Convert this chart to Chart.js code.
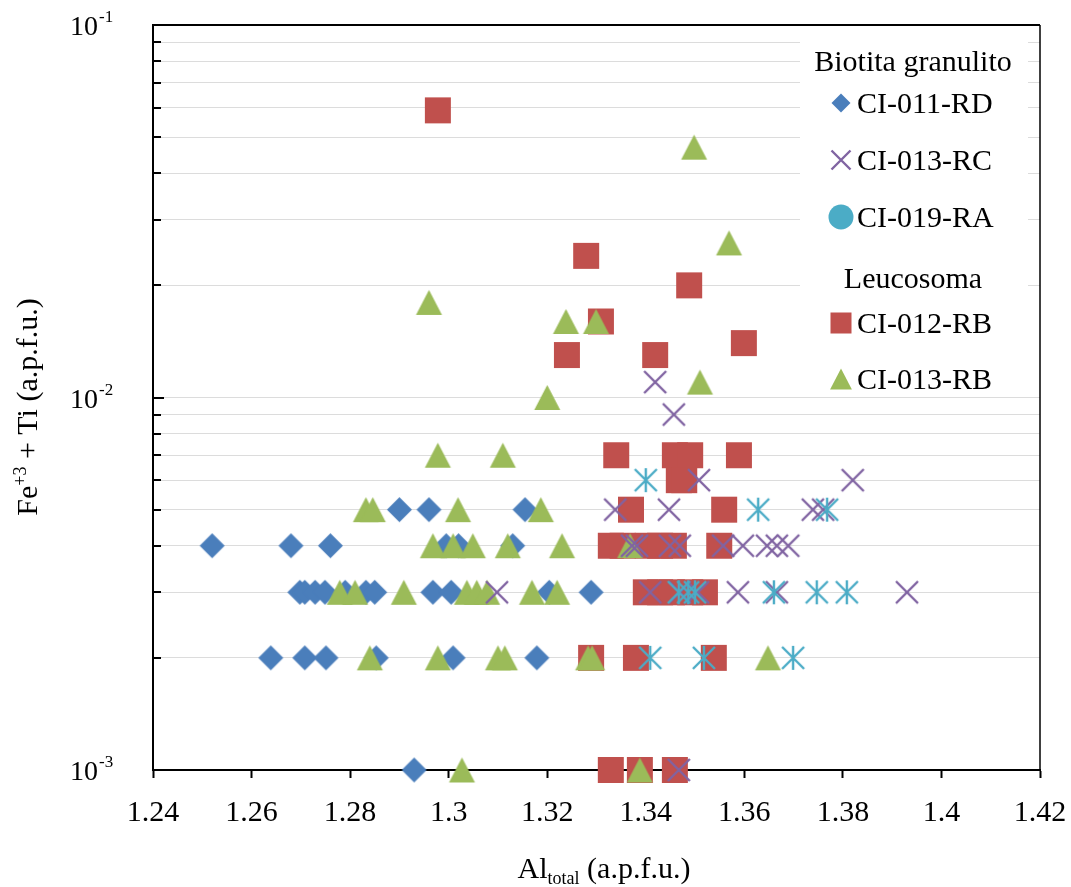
<!DOCTYPE html>
<html><head><meta charset="utf-8">
<script src="https://cdn.jsdelivr.net/npm/chart.js@4.4.0/dist/chart.umd.min.js"></script>
<style>html,body{margin:0;padding:0;background:#fff;}</style>
</head><body>
<canvas id="c" width="1071" height="887"></canvas>
<script>
// ---------- data ----------
const seriesNames = ['CI-011-RD', 'CI-013-RC', 'CI-019-RA', 'CI-012-RB', 'CI-013-RB'];
const groupNames = ['Biotita granulito', 'Leucosoma'];
const xTickValues = [1.24, 1.26, 1.28, 1.30, 1.32, 1.34, 1.36, 1.38, 1.40, 1.42];
const xTickLabels = ['1.24', '1.26', '1.28', '1.3', '1.32', '1.34', '1.36', '1.38', '1.4', '1.42'];
const yTickExponents = [-3, -2, -1];
const yTickValues = [0.001,0.002,0.003,0.004,0.005,0.006,0.007,0.008,0.009,
                     0.01,0.02,0.03,0.04,0.05,0.06,0.07,0.08,0.09,0.1];

// CI-011-RD (diamonds)
const rdAl   = [1.290,1.296,1.3155, 1.252,1.268,1.276,1.2995,1.302,1.313,
                1.2698,1.2708,1.2729,1.2749,1.279,1.2832,1.285,1.2968,1.3005,1.3204,1.3289,
                1.2639,1.2708,1.2751,1.2853,1.3009,1.3179, 1.293];
const rdFeTi = [0.005,0.005,0.005, 0.004,0.004,0.004,0.004,0.004,0.004,
                0.003,0.003,0.003,0.003,0.003,0.003,0.003,0.003,0.003,0.003,0.003,
                0.002,0.002,0.002,0.002,0.002,0.002, 0.001];
// CI-013-RC (crosses)
const rcAl   = [1.3419, 1.3457, 1.3508,1.3820, 1.3338,1.3447,1.3739,1.3760,
                1.3372,1.3382,1.3449,1.3469,1.3557,1.3597,1.3646,1.3666,1.3689,
                1.3098,1.3409,1.3469,1.3506,1.3587,1.3666,1.3930, 1.3467];
const rcFeTi = [0.011, 0.009, 0.006,0.006, 0.005,0.005,0.005,0.005,
                0.004,0.004,0.004,0.004,0.004,0.004,0.004,0.004,0.004,
                0.003,0.003,0.003,0.003,0.003,0.003,0.003, 0.001];
// CI-019-RA (asterisks)
const raAl   = [1.3400, 1.3628,1.3768, 1.3467,1.3486,1.3500,1.3660,1.3747,1.3808, 1.3409,1.3518,1.3699];
const raFeTi = [0.006, 0.005,0.005, 0.003,0.003,0.003,0.003,0.003,0.003, 0.002,0.002,0.002];
// CI-012-RB (squares)
const sqAl   = [1.2978, 1.3279, 1.3488, 1.3309, 1.3599, 1.3240,1.3419,
                1.3340,1.3459,1.3490,1.3589, 1.3467,1.3478, 1.3370,1.3559,
                1.3329,1.3353,1.3404,1.3429,1.3457,1.3549,
                1.3400,1.3429,1.3453,1.3490,1.3520, 1.3289,1.3380,1.3538, 1.3329,1.3388,1.3459];
const sqFeTi = [0.059, 0.024, 0.020, 0.016, 0.014, 0.013,0.013,
                0.007,0.007,0.007,0.007, 0.006,0.006, 0.005,0.005,
                0.004,0.004,0.004,0.004,0.004,0.004,
                0.003,0.003,0.003,0.003,0.003, 0.002,0.002,0.002, 0.001,0.001,0.001];
// CI-013-RB (triangles)
const trAl   = [1.3498, 1.3569, 1.2960, 1.3238,1.3299, 1.3510, 1.3200, 1.2978,1.3110,
                1.2832,1.2846,1.3019,1.3187, 1.2968,1.3009,1.3049,1.3120,1.3230,1.3368,
                1.2779,1.2810,1.2909,1.3037,1.3057,1.3078,1.3169,1.3220,
                1.2840,1.2978,1.3100,1.3114,1.3283,1.3291,1.3648, 1.3027,1.3388];
const trFeTi = [0.047, 0.026, 0.018, 0.016,0.016, 0.011, 0.010, 0.007,0.007,
                0.005,0.005,0.005,0.005, 0.004,0.004,0.004,0.004,0.004,0.004,
                0.003,0.003,0.003,0.003,0.003,0.003,0.003,0.003,
                0.002,0.002,0.002,0.002,0.002,0.002,0.002, 0.001,0.001];

// ---------- styles ----------
const C_BLUE = '#4a7ebb', C_PURPLE = '#8064a2', C_CYAN = '#4bacc6', C_RED = '#c0504d', C_GREEN = '#9bbb59';
const FONT = '"Liberation Serif", "Times New Roman", serif';

function drawShape(ctx, kind, cx, cy, s, color) {
  const h = s / 2;
  ctx.save();
  ctx.fillStyle = color; ctx.strokeStyle = color;
  ctx.beginPath();
  if (kind === 'diamond') {
    ctx.moveTo(cx, cy - h); ctx.lineTo(cx + h, cy); ctx.lineTo(cx, cy + h); ctx.lineTo(cx - h, cy); ctx.closePath(); ctx.fill();
  } else if (kind === 'square') {
    ctx.fillRect(cx - h, cy - h, s, s);
  } else if (kind === 'triangle') {
    ctx.moveTo(cx, cy - h); ctx.lineTo(cx + h * 1.04, cy + h); ctx.lineTo(cx - h * 1.04, cy + h); ctx.closePath(); ctx.fill();
  } else if (kind === 'circle') {
    ctx.arc(cx, cy, h, 0, Math.PI * 2); ctx.fill();
  } else if (kind === 'x' || kind === 'star') {
    ctx.lineWidth = 2.4;
    ctx.moveTo(cx - h, cy - h); ctx.lineTo(cx + h, cy + h);
    ctx.moveTo(cx + h, cy - h); ctx.lineTo(cx - h, cy + h);
    if (kind === 'star') { ctx.moveTo(cx, cy - h - 1); ctx.lineTo(cx, cy + h + 1); }
    ctx.stroke();
  }
  ctx.restore();
}
function markerCanvas(kind, s, color) {
  const pad = 3, c = document.createElement('canvas');
  c.width = s + pad * 2; c.height = s + pad * 2;
  drawShape(c.getContext('2d'), kind, c.width / 2, c.height / 2, s, color);
  return c;
}

function zip(xs, ys) { return xs.map((x, i) => ({ x: x, y: ys[i] })); }

const datasets = [
  { label: seriesNames[0], data: zip(rdAl, rdFeTi), pointStyle: markerCanvas('diamond', 25, C_BLUE), order: 3 },
  { label: seriesNames[1], data: zip(rcAl, rcFeTi), pointStyle: markerCanvas('x', 22, C_PURPLE), order: 1 },
  { label: seriesNames[2], data: zip(raAl, raFeTi), pointStyle: markerCanvas('star', 22, C_CYAN), order: 0 },
  { label: seriesNames[3], data: zip(sqAl, sqFeTi), pointStyle: markerCanvas('square', 26, C_RED), order: 4 },
  { label: seriesNames[4], data: zip(trAl, trFeTi), pointStyle: markerCanvas('triangle', 25, C_GREEN), order: 2 }
];
datasets.forEach(d => { d.pointRadius = 10; d.pointHoverRadius = 10; d.showLine = false; d.clip = false; });

const legendItems = [
  { head: groupNames[0], base: 71 },
  { name: seriesNames[0], kind: 'diamond', size: 19, color: C_BLUE, y: 103 },
  { name: seriesNames[1], kind: 'x', size: 19, color: C_PURPLE, y: 160 },
  { name: seriesNames[2], kind: 'circle', size: 25, color: C_CYAN, y: 217 },
  { head: groupNames[1], base: 288 },
  { name: seriesNames[3], kind: 'square', size: 21, color: C_RED, y: 323 },
  { name: seriesNames[4], kind: 'triangle', size: 21, color: C_GREEN, y: 379 }
];

function drawParts(ctx, parts, cx, baseY) {
  let w = 0;
  parts.forEach(p => { ctx.font = p.f + 'px ' + FONT; p.w = ctx.measureText(p.t).width; w += p.w; });
  let x = cx - w / 2;
  parts.forEach(p => { ctx.font = p.f + 'px ' + FONT; ctx.fillText(p.t, x, baseY + p.dy); x += p.w; });
}

const deco = {
  id: 'deco',
  beforeDatasetsDraw(chart) {
    const ctx = chart.ctx;
    ctx.save(); ctx.fillStyle = '#fff'; ctx.fillRect(800, 34, 228, 358); ctx.restore();
  },
  afterDraw(chart) {
    const ctx = chart.ctx, a = chart.chartArea, ys = chart.scales.y;
    ctx.save();
    ctx.strokeStyle = '#000';
    ctx.lineWidth = 2;
    ctx.beginPath(); ctx.moveTo(a.left - 1, a.top); ctx.lineTo(a.right, a.top); ctx.stroke();
    ctx.lineWidth = 1.5;
    ctx.beginPath(); ctx.moveTo(a.right, a.top); ctx.lineTo(a.right, a.bottom); ctx.stroke();
    // inward y ticks
    ctx.lineWidth = 2;
    yTickValues.forEach(v => {
      const y = Math.round(ys.getPixelForValue(v));
      const major = yTickExponents.some(e => Math.abs(Math.pow(10, e) - v) < 1e-12);
      ctx.beginPath(); ctx.moveTo(a.left, y); ctx.lineTo(a.left + (major ? 11 : 8), y); ctx.stroke();
    });
    // y tick labels 10^n
    ctx.fillStyle = '#000';
    ctx.textBaseline = 'alphabetic';
    yTickExponents.forEach(e => {
      const y = ys.getPixelForValue(Math.pow(10, e));
      ctx.font = '28px ' + FONT; ctx.textAlign = 'right';
      ctx.fillText('10', 98, y + 10);
      ctx.font = '17px ' + FONT; ctx.textAlign = 'left';
      ctx.fillText(String(e), 99, y - 3);
    });
    ctx.textAlign = 'left';
    // axis titles
    drawParts(ctx, [{ t: 'Al', f: 30, dy: 0 }, { t: 'total', f: 18, dy: 6 }, { t: ' (a.p.f.u.)', f: 30, dy: 0 }], 604, 878);
    ctx.save();
    ctx.translate(37, 407); ctx.rotate(-Math.PI / 2);
    drawParts(ctx, [{ t: 'Fe', f: 30, dy: 0 }, { t: '+3', f: 18, dy: -11 }, { t: ' + Ti (a.p.f.u.)', f: 30, dy: 0 }], 0, 0);
    ctx.restore();
    // legend
    ctx.font = '30px ' + FONT;
    legendItems.forEach(it => {
      if (it.head) {
        ctx.textAlign = 'center'; ctx.fillText(it.head, 913, it.base);
      } else {
        drawShape(ctx, it.kind, 841, it.y, it.size, it.color);
        ctx.textAlign = 'left'; ctx.fillText(it.name, 857, it.y + 9.5);
      }
    });
    ctx.restore();
  }
};

new Chart(document.getElementById('c'), {
  type: 'scatter',
  data: { datasets: datasets },
  options: {
    responsive: false, animation: false, devicePixelRatio: 1, events: [],
    layout: { padding: { top: 25, right: 31, left: 0, bottom: 0 } },
    plugins: { legend: { display: false }, tooltip: { enabled: false } },
    scales: {
      x: {
        type: 'linear', min: 1.24, max: 1.42,
        afterBuildTicks: s => { s.ticks = xTickValues.map(v => ({ value: v })); },
        afterFit: s => { s.height = 117; s.paddingLeft = 0; s.paddingRight = 0; },
        ticks: { callback: (v, i) => xTickLabels[i], color: '#000', padding: 17, maxRotation: 0, autoSkip: false,
                 font: { family: FONT, size: 30 } },
        grid: { drawOnChartArea: false, drawTicks: true, tickLength: 8, tickColor: '#000', tickWidth: 2 },
        border: { color: '#000', width: 2 }
      },
      y: {
        type: 'logarithmic', min: 0.001, max: 0.1,
        afterBuildTicks: s => { s.ticks = yTickValues.map(v => ({ value: v })); },
        afterFit: s => { s.width = 153; s.paddingTop = 0; s.paddingBottom = 0; },
        ticks: { display: false },
        grid: { color: '#dcdcdc', lineWidth: 1, drawTicks: false },
        border: { color: '#000', width: 2 }
      }
    }
  },
  plugins: [deco]
});
</script>
</body></html>
